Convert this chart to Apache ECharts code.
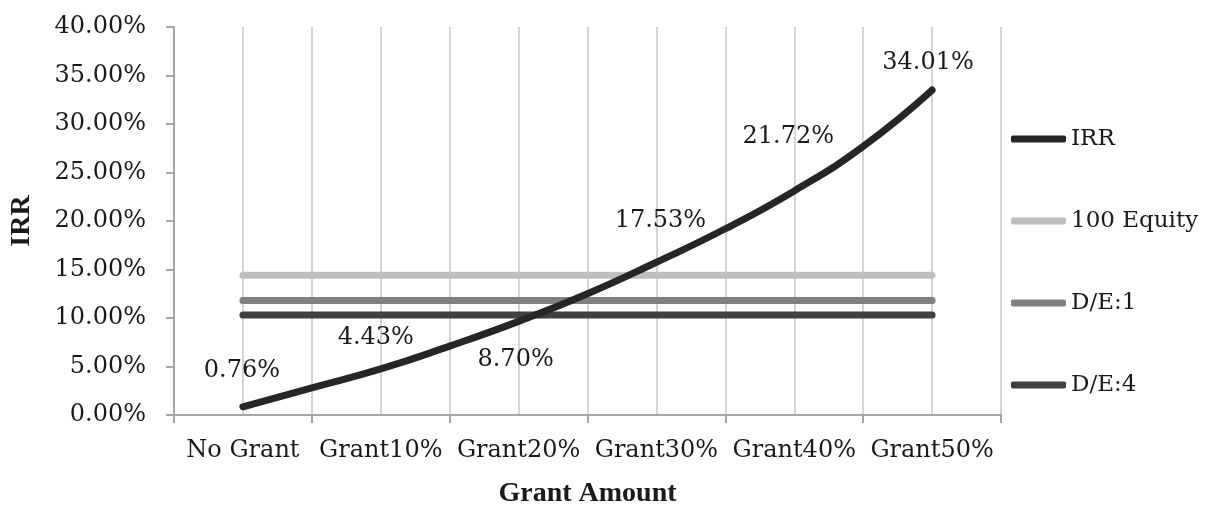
<!DOCTYPE html>
<html>
<head>
<meta charset="utf-8">
<script src="https://cdn.jsdelivr.net/npm/echarts@6/dist/echarts.min.js"></script>
<style>
  html, body { margin: 0; padding: 0; background: #ffffff; }
  #chart { width: 1210px; height: 513px; }
</style>
</head>
<body>
<div id="chart"></div>
<script>
// ---- data ----
const categories = ['No Grant', 'Grant10%', 'Grant20%', 'Grant30%', 'Grant40%', 'Grant50%'];
// data labels printed on the chart (one per category)
const irrLabels = [0.76, 4.43, 8.70, 17.53, 21.72, 34.01];
// IRR curve as drawn, read at each category and each half-way point
const irrCurve = [0.85, 2.8, 4.75, 7.1, 9.65, 12.5, 15.75, 19.2, 23.1, 27.7, 33.5];
const equity100 = [14.4, 14.4, 14.4, 14.4, 14.4, 14.4];
const de1 = [11.8, 11.8, 11.8, 11.8, 11.8, 11.8];
const de4 = [10.3, 10.3, 10.3, 10.3, 10.3, 10.3];
const yMin = 0, yMax = 40, yStep = 5;

// ---- styling ----
const labelOffsets = [[-1, -37], [-5, -34], [-3, 29], [4, -24], [-6, -68], [-4, -22]];
const serif = 'DejaVu Serif';
const txt = '#1a1a1a';

const chart = echarts.init(document.getElementById('chart'), null, { renderer: 'canvas' });

const curveData = irrCurve.map((v, i) => [i * 0.5, v]);

chart.setOption({
  backgroundColor: '#ffffff',
  animation: false,
  grid: { left: 172, right: 209, top: 27, bottom: 95, containLabel: false },
  legend: {
    orient: 'vertical',
    left: 1006,
    top: 122,
    icon: 'roundRect',
    itemWidth: 55,
    itemHeight: 7,
    itemGap: 58,
    data: ['IRR', '100 Equity', 'D/E:1', 'D/E:4'],
    textStyle: { fontFamily: serif, fontSize: 23, color: txt, lineHeight: 24 }
  },
  xAxis: [
    {
      type: 'category',
      data: categories,
      boundaryGap: true,
      name: 'Grant Amount',
      nameLocation: 'middle',
      nameGap: 65,
      nameTextStyle: { fontFamily: 'Liberation Serif', fontWeight: 'bold', fontSize: 28, color: txt },
      axisLine: { show: true, lineStyle: { color: '#a6a6a6', width: 2 } },
      axisTick: { show: true, length: 8, lineStyle: { color: '#a6a6a6', width: 2 } },
      axisLabel: { interval: 0, fontFamily: serif, fontSize: 24, color: txt, margin: 24 },
      splitLine: { show: false }
    },
    {
      type: 'value',
      min: -0.5,
      max: 5.5,
      interval: 0.5,
      position: 'bottom',
      axisLine: { show: false },
      axisTick: { show: false },
      axisLabel: { show: false },
      splitLine: { show: true, lineStyle: { color: '#d4d4d4', width: 2 } }
    }
  ],
  yAxis: {
    type: 'value',
    min: yMin,
    max: yMax,
    interval: yStep,
    name: 'IRR',
    nameLocation: 'middle',
    nameGap: 138,
    nameTextStyle: { fontFamily: 'Liberation Serif', fontWeight: 'bold', fontSize: 28, color: txt },
    axisLine: { show: true, onZero: false, lineStyle: { color: '#a6a6a6', width: 2 } },
    axisTick: { show: true, length: 8, lineStyle: { color: '#a6a6a6', width: 2 } },
    axisLabel: {
      fontFamily: serif, fontSize: 24, color: txt, margin: 28,
      formatter: v => v.toFixed(2) + '%'
    },
    splitLine: { show: false }
  },
  series: [
    {
      name: '100 Equity', type: 'line', data: equity100, symbol: 'none', z: 2,
      lineStyle: { color: '#bfbfbf', width: 7, cap: 'round' }, itemStyle: { color: '#bfbfbf' }
    },
    {
      name: 'D/E:1', type: 'line', data: de1, symbol: 'none', z: 2,
      lineStyle: { color: '#808080', width: 7, cap: 'round' }, itemStyle: { color: '#808080' }
    },
    {
      name: 'D/E:4', type: 'line', data: de4, symbol: 'none', z: 2,
      lineStyle: { color: '#404040', width: 7, cap: 'round' }, itemStyle: { color: '#404040' }
    },
    {
      name: 'IRR', type: 'line', xAxisIndex: 1, data: curveData, symbol: 'none',
      smooth: true, z: 3,
      lineStyle: { color: '#262626', width: 7, cap: 'round' }, itemStyle: { color: '#262626' }
    },
    {
      name: 'IRR labels', type: 'scatter', data: irrLabels, symbolSize: 0.01, z: 4,
      itemStyle: { color: '#262626', opacity: 1 },
      silent: true,
      label: {
        show: true, position: 'inside',
        fontFamily: serif, fontSize: 24, color: txt, opacity: 1,
        textBorderWidth: 0,
        formatter: p => p.value.toFixed(2) + '%'
      },
      labelLayout: (p) => ({ dx: labelOffsets[p.dataIndex][0], dy: labelOffsets[p.dataIndex][1] })
    }
  ]
});
</script>
</body>
</html>
